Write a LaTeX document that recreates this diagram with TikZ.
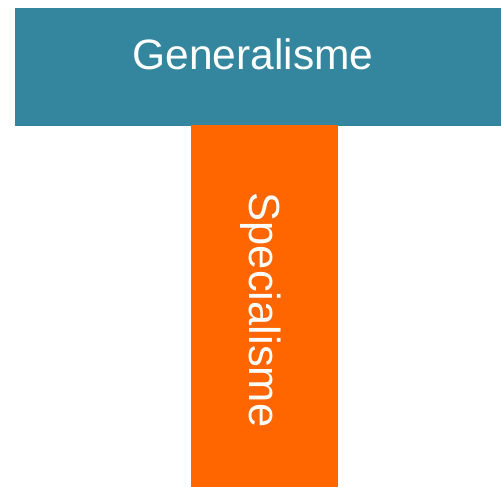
\documentclass[tikz,border=0pt]{standalone}
\usepackage{fontspec}
\setmainfont{Liberation Sans}
\definecolor{teal}{HTML}{33869E}
\definecolor{orng}{HTML}{FF6600}
\begin{document}
\begin{tikzpicture}[x=1pt,y=-1pt,
  lbl/.style={text=white,font=\fontsize{42.5}{50}\selectfont,inner sep=0pt}]
\useasboundingbox (0,0) rectangle (501,487);
\fill[teal] (15,8) rectangle (501,126);
\fill[orng] (191,125) rectangle (338,487);
\node[lbl] (gen) at (253,54) {Generalisme};
\node[lbl,font=\fontsize{43.5}{50}\selectfont,rotate=-90] (spec) at (261,310) {Specialisme};
\end{tikzpicture}
\end{document}
